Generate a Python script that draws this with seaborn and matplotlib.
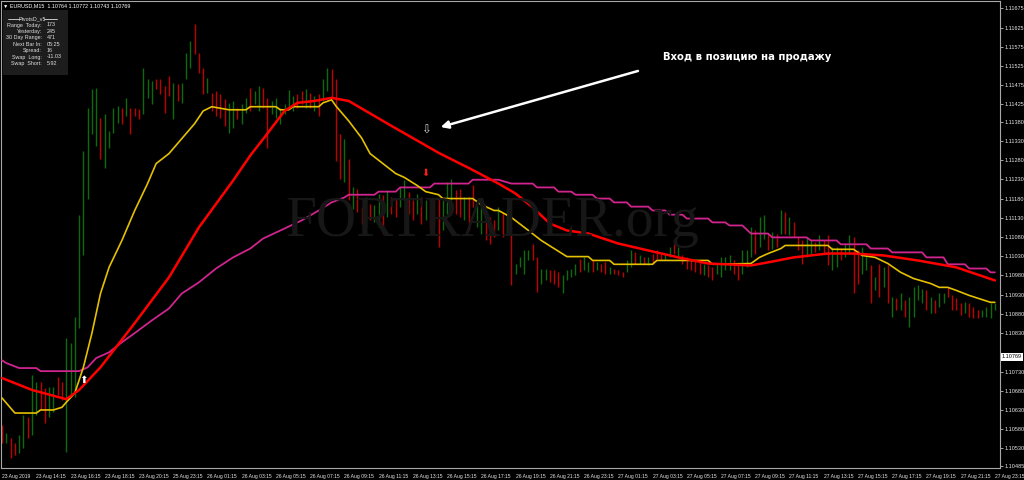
import matplotlib
matplotlib.use('Agg')
from matplotlib import pyplot as plt
from matplotlib.lines import Line2D
from matplotlib.patches import Rectangle
import pandas as pd
import seaborn as sns

# EURUSD M15 bars, 23-27 Aug 2019: high / low in points above 1.10000
bar_high = [591, 570, 557, 544, 565, 617, 611, 721, 702, 702,
            687, 689, 689, 715, 702, 817, 804, 871, 1136, 1305,
            1416, 1466, 1468, 1390, 1401, 1357, 1416, 1421, 1416, 1442,
            1416, 1416, 1414, 1520, 1491, 1486, 1491, 1491, 1473, 1499,
            1481, 1478, 1481, 1559, 1590, 1634, 1559, 1520, 1494, 1455,
            1460, 1453, 1440, 1429, 1434, 1416, 1427, 1442, 1468, 1460,
            1473, 1468, 1442, 1434, 1442, 1416, 1427, 1463, 1447, 1453,
            1460, 1466, 1455, 1447, 1453, 1491, 1520, 1517, 1491, 1349,
            1336, 1284, 1209, 1206, 1157, 1183, 1167, 1162, 1193, 1188,
            1201, 1183, 1180, 1209, 1227, 1196, 1175, 1193, 1183, 1175,
            1180, 1175, 1180, 1175, 1222, 1232, 1201, 1206, 1183, 1183,
            1214, 1175, 1167, 1141, 1131, 1123, 1157, 1144, 1149, 1089,
            1011, 1027, 1045, 1045, 1063, 1027, 998, 998, 993, 993,
            988, 980, 993, 998, 1011, 1024, 1027, 1014, 1019, 1014,
            1011, 1014, 1001, 998, 993, 988, 1019, 1045, 1040, 1032,
            1027, 1027, 1037, 1045, 1037, 1037, 1053, 1063, 1053, 1032,
            1027, 1019, 1019, 1014, 1011, 1006, 1001, 1011, 1027, 1027,
            1032, 1019, 1011, 1045, 1045, 1105, 1097, 1131, 1136, 1089,
            1092, 1089, 1149, 1144, 1131, 1118, 1079, 1071, 1079, 1071,
            1066, 1084, 1071, 1084, 1053, 1053, 1050, 1063, 1084, 1079,
            1045, 1053, 1037, 1006, 975, 1011, 1001, 1006, 923, 920,
            933, 915, 923, 949, 954, 946, 941, 923, 915, 933,
            933, 949, 928, 920, 907, 910, 907, 897, 889, 889,
            897, 907, 907]
bar_low = [544, 544, 505, 513, 518, 531, 557, 565, 617, 630,
           596, 611, 624, 669, 656, 521, 663, 663, 843, 1032,
           1180, 1349, 1318, 1284, 1260, 1312, 1351, 1377, 1375, 1395,
           1349, 1395, 1388, 1401, 1442, 1427, 1466, 1453, 1403, 1447,
           1388, 1434, 1429, 1491, 1520, 1556, 1507, 1453, 1455, 1408,
           1395, 1390, 1370, 1351, 1364, 1388, 1375, 1403, 1408, 1427,
           1408, 1416, 1312, 1401, 1390, 1375, 1401, 1416, 1408, 1416,
           1427, 1416, 1416, 1408, 1395, 1434, 1460, 1442, 1279, 1232,
           1222, 1175, 1154, 1144, 1115, 1105, 1123, 1118, 1105, 1089,
           1131, 1141, 1131, 1157, 1175, 1141, 1123, 1141, 1115, 1123,
           1097, 1105, 1053, 1097, 1141, 1175, 1141, 1131, 1123, 1097,
           1157, 1105, 1089, 1071, 1063, 1079, 1097, 1079, 1089, 954,
           985, 1001, 985, 1019, 1019, 936, 959, 967, 962, 959,
           949, 933, 967, 975, 980, 988, 993, 988, 988, 993,
           988, 985, 985, 985, 980, 975, 988, 1001, 1011, 1011,
           1006, 1006, 1011, 1024, 1019, 1019, 1027, 1037, 1027, 1011,
           998, 993, 988, 985, 980, 975, 967, 985, 975, 993,
           993, 985, 967, 985, 1001, 1027, 1037, 1053, 1076, 1045,
           1050, 1053, 1089, 1089, 1084, 1079, 1045, 1011, 1027, 1037,
           1040, 1045, 1037, 1006, 993, 1001, 1019, 1027, 1037, 933,
           959, 985, 993, 907, 941, 923, 949, 907, 871, 889,
           889, 871, 845, 871, 915, 907, 889, 881, 881, 897,
           907, 923, 889, 889, 876, 881, 871, 868, 868, 871,
           871, 868, 889]
# g = bull bar, r = bear bar
bar_dir = ('rgrrggrggr' 'rggrrggggg' 'gggrggggrg' 'rrrgggrrrr' 'grgggrrrgr'
           'rrrggrggrg' 'grrggggggr' 'rgrgrggrrr' 'grgrrgrggr' 'grrggrrgrg'
           'rrrgggrrgr' 'rggrrrgrgr' 'ggggrrggrr' 'rggggrggrg' 'rrgrrrggrg'
           'rgrrrggrgr' 'rrrrgrrggg' 'grrgggrggr' 'grgrgrrrgg' 'rgrrggrggr'
           'rggrgrgrgr' 'grggggrgrg' 'grrrrgrrrg' 'ggg')

# slow red MA (bar index, price)
red_bars = [0, 7, 14, 15, 18, 23, 31, 39, 46, 54, 58, 62, 66, 69, 73, 77, 81, 87, 91, 97,
            102, 109, 116, 120, 124, 128, 132, 137, 144, 151, 158, 165, 175, 179, 185,
            193, 199, 206, 214, 223, 232]
red_ma = [1.10713, 1.10682, 1.10661, 1.10658, 1.10682, 1.10741, 1.10856, 1.10975, 1.11105,
          1.11227, 1.11292, 1.11349, 1.11408, 1.11429, 1.11434, 1.11442, 1.11434, 1.11395,
          1.11369, 1.11331, 1.11299, 1.11260, 1.11219, 1.11193, 1.11157, 1.11115, 1.11097,
          1.11089, 1.11063, 1.11045, 1.11027, 1.11011, 1.11006, 1.11014, 1.11027, 1.11037,
          1.11037, 1.11032, 1.11019, 1.11001, 1.10967]

# fast yellow line
yellow_bars = [0, 3, 8, 9, 12, 14, 15, 17, 19, 21, 23, 25, 28, 31, 34, 36, 39, 42, 45, 47,
               49, 53, 57, 58, 64, 65, 67, 68, 74, 75, 77, 78, 81, 84, 86, 89, 92, 94, 97, 99,
               102, 103, 110, 112, 115, 116, 119, 123, 126, 129, 132, 137, 138, 142, 143, 152,
               153, 158, 165, 166, 175, 177, 179, 182, 183, 193, 194, 199, 201, 204, 207, 210,
               213, 217, 219, 221, 223, 226, 231, 232]
yellow_ma = [1.10661, 1.10622, 1.10622, 1.10630, 1.10630, 1.10637, 1.10650, 1.10674, 1.10741,
             1.10830, 1.10933, 1.11001, 1.11071, 1.11149, 1.11219, 1.11271, 1.11297, 1.11336,
             1.11375, 1.11408, 1.11419, 1.11411, 1.11411, 1.11419, 1.11419, 1.11411, 1.11411,
             1.11419, 1.11419, 1.11429, 1.11437, 1.11421, 1.11382, 1.11338, 1.11297, 1.11271,
             1.11245, 1.11235, 1.11214, 1.11198, 1.11190, 1.11180, 1.11180, 1.11164, 1.11149,
             1.11149, 1.11131, 1.11097, 1.11071, 1.11050, 1.11029, 1.11029, 1.11019, 1.11019,
             1.11009, 1.11009, 1.11019, 1.11019, 1.11019, 1.11009, 1.11011, 1.11027, 1.11037,
             1.11050, 1.11058, 1.11058, 1.11048, 1.11048, 1.11032, 1.11027, 1.11011, 1.10988,
             1.10972, 1.10959, 1.10949, 1.10949, 1.10941, 1.10928, 1.10910, 1.10910]

# stepped magenta line
magenta_bars = [0, 1, 4, 8, 9, 18, 20, 22, 25, 28, 31, 35, 39, 42, 46, 50, 54, 58, 61, 66,
                70, 74, 77, 80, 81, 87, 88, 92, 93, 100, 101, 109, 110, 116, 119, 124, 125, 129,
                130, 133, 134, 138, 139, 142, 143, 146, 147, 151, 152, 155, 156, 159, 160, 165,
                166, 169, 170, 173, 175, 179, 180, 188, 189, 195, 196, 202, 203, 207, 208, 215,
                216, 220, 221, 225, 226, 230, 231, 232]
magenta_ma = [1.10759, 1.10752, 1.10739, 1.10739, 1.10731, 1.10731, 1.10741, 1.10765, 1.10780,
              1.10806, 1.10830, 1.10863, 1.10894, 1.10933, 1.10962, 1.10998, 1.11027, 1.11050,
              1.11076, 1.11102, 1.11123, 1.11149, 1.11170, 1.11183, 1.11190, 1.11190, 1.11198,
              1.11198, 1.11209, 1.11209, 1.11219, 1.11219, 1.11229, 1.11229, 1.11219, 1.11219,
              1.11209, 1.11209, 1.11198, 1.11198, 1.11190, 1.11190, 1.11180, 1.11180, 1.11170,
              1.11170, 1.11159, 1.11159, 1.11149, 1.11149, 1.11138, 1.11138, 1.11128, 1.11128,
              1.11118, 1.11118, 1.11110, 1.11110, 1.11089, 1.11089, 1.11079, 1.11079, 1.11071,
              1.11071, 1.11061, 1.11061, 1.11050, 1.11050, 1.11040, 1.11040, 1.11027, 1.11027,
              1.11009, 1.11009, 1.10998, 1.10998, 1.10988, 1.10988]

# signal arrows
buy_bar, buy_price = 19, 1.10708
sell_bar, sell_price = 99, 1.11247
entry_bar, entry_price = 99, 1.11357

time_labels = ['23 Aug 2019', '23 Aug 14:15', '23 Aug 16:15', '23 Aug 18:15', '23 Aug 20:15',
               '25 Aug 23:15', '26 Aug 01:15', '26 Aug 03:15', '26 Aug 05:15', '26 Aug 07:15',
               '26 Aug 09:15', '26 Aug 11:15', '26 Aug 13:15', '26 Aug 15:15', '26 Aug 17:15',
               '26 Aug 19:15', '26 Aug 21:15', '26 Aug 23:15', '27 Aug 01:15', '27 Aug 03:15',
               '27 Aug 05:15', '27 Aug 07:15', '27 Aug 09:15', '27 Aug 11:15', '27 Aug 13:15',
               '27 Aug 15:15', '27 Aug 17:15', '27 Aug 19:15', '27 Aug 21:15', '27 Aug 23:15']
price_labels = ['1.11675', '1.11625', '1.11575', '1.11525', '1.11475', '1.11425', '1.11380',
                '1.11330', '1.11280', '1.11230', '1.11180', '1.11130', '1.11080', '1.11030',
                '1.10980', '1.10930', '1.10880', '1.10830', '1.10730', '1.10680', '1.10630',
                '1.10580', '1.10530', '1.10485']
last_price = '1.10769'

pivot_rows = [('Range  Today:', '173'), ('Yesterday:', '245'), ('30 Day Range:', '471'),
              ('Next Bar In:', '05:25'), ('Spread:', '16'), ('Swap  Long:', '-11.03'),
              ('Swap  Short:', '5.92')]

sns.set_style('dark', {'axes.facecolor': 'black', 'figure.facecolor': 'black'})
plt.rcParams['font.family'] = ['Liberation Sans', 'DejaVu Sans']

fig = plt.figure(figsize=(10.24, 4.8), dpi=100)
ax = fig.add_axes([1 / 1024, 12 / 480, 999 / 1024, 467 / 480])
ax.set_facecolor('black')


def px(x, y):
    # pixel position -> figure fraction
    return x / 1024, 1 - y / 480


# watermark
fig.text(*px(492, 222), 'FORTRADER.org', ha='center', va='center', fontsize=40,
         family='Liberation Serif', color='#171717', zorder=0)

# bars
bars = pd.DataFrame({'high': bar_high, 'low': bar_low, 'dir': list(bar_dir)})
bars['bar'] = range(len(bars))
bars['high'] = 1.1 + bars['high'] / 100000
bars['low'] = 1.1 + bars['low'] / 100000
bar_colors = bars['dir'].map({'g': '#0d6a0d', 'r': '#c00000'})
ax.vlines(bars['bar'], bars['low'], bars['high'], colors=bar_colors, linewidth=1.0, zorder=2)

# indicator lines
sns.lineplot(x=magenta_bars, y=magenta_ma, ax=ax, color='#d0248e', linewidth=1.3,
             estimator=None, sort=False, zorder=3)
sns.lineplot(x=yellow_bars, y=yellow_ma, ax=ax, color='#e4c000', linewidth=1.2,
             estimator=None, sort=False, zorder=4)
sns.lineplot(x=red_bars, y=red_ma, ax=ax, color='#ff0000', linewidth=1.8,
             estimator=None, sort=False, zorder=5)

# arrows
ax.text(buy_bar, buy_price, '⬆', color='white', fontsize=7.5, ha='center', va='center',
        family=['DejaVu Sans'], zorder=6)
ax.text(sell_bar, sell_price, '⬇', color='#ff1a1a', fontsize=7, ha='center', va='center',
        family=['DejaVu Sans'], zorder=6)
ax.text(entry_bar, entry_price, '⇩', color='#d0d0d0', fontsize=8.5, ha='center', va='center',
        family=['DejaVu Sans'], zorder=6)

ax.annotate('', xy=(102.5, 1.11366), xytext=(148.6, 1.11512),
            arrowprops=dict(arrowstyle='-|>', color='white', lw=1.8, mutation_scale=11,
                            shrinkA=0, shrinkB=0), zorder=7)
fig.text(*px(663, 57), 'Вход в позицию на продажу', color='white', fontsize=7.3,
         fontweight='bold', family=['DejaVu Sans'], ha='left', va='center')

# axes
ax.set_xlim(-0.25, 233.2)
ax.set_ylim(1.10479, 1.11694)
ax.set_xlabel('')
ax.set_ylabel('')
ax.grid(False)
ax.set_xticks(range(0, 8 * len(time_labels), 8))
ax.set_xticklabels(time_labels, ha='left')
ax.yaxis.tick_right()
ax.set_yticks([float(p) for p in price_labels])
ax.set_yticklabels(price_labels)
ax.tick_params(axis='x', direction='out', length=3, width=0.6, colors='#bdbdbd',
               labelsize=3.6, pad=1, labelcolor='#e6e6e6')
ax.tick_params(axis='y', direction='out', length=2, width=0.6, colors='#bdbdbd',
               labelsize=4.0, pad=1, labelcolor='#e6e6e6')
for s in ax.spines.values():
    s.set_color('#a8a8a8')
    s.set_linewidth(0.8)

# last price tag
fig.text(*px(1002, 357), last_price, fontsize=4.0, color='black', ha='left',
         va='center', bbox=dict(boxstyle='square,pad=0.25', fc='white', ec='none'))

# header and pivot panel
fig.text(*px(3, 6), '▼ EURUSD,M15  1.10764 1.10772 1.10743 1.10769', fontsize=3.9,
         color='white', ha='left', va='center')
fig.add_artist(Rectangle(px(3, 75), 65 / 1024, 65 / 480, transform=fig.transFigure,
                         facecolor='#1d1d1d', edgecolor='none', zorder=8))
fig.text(*px(32, 19), 'PivotsD_v5', fontsize=3.9, color='#e0e0e0', ha='center', va='center',
         zorder=9)
for x0, x1 in [(8, 20), (44, 57)]:
    fig.add_artist(Line2D([x0 / 1024, x1 / 1024], [1 - 19 / 480, 1 - 19 / 480],
                          transform=fig.transFigure, color='#e0e0e0', lw=0.6, zorder=9))
for k, (name, val) in enumerate(pivot_rows):
    y = 25 + k * 6.4
    fig.text(*px(42, y), name, fontsize=3.9, color='#e0e0e0', ha='right', va='center', zorder=9)
    fig.text(*px(47, y), val, fontsize=3.9, color='#e0e0e0', ha='left', va='center', zorder=9)

fig.savefig('out.png', dpi=100, facecolor='black')
